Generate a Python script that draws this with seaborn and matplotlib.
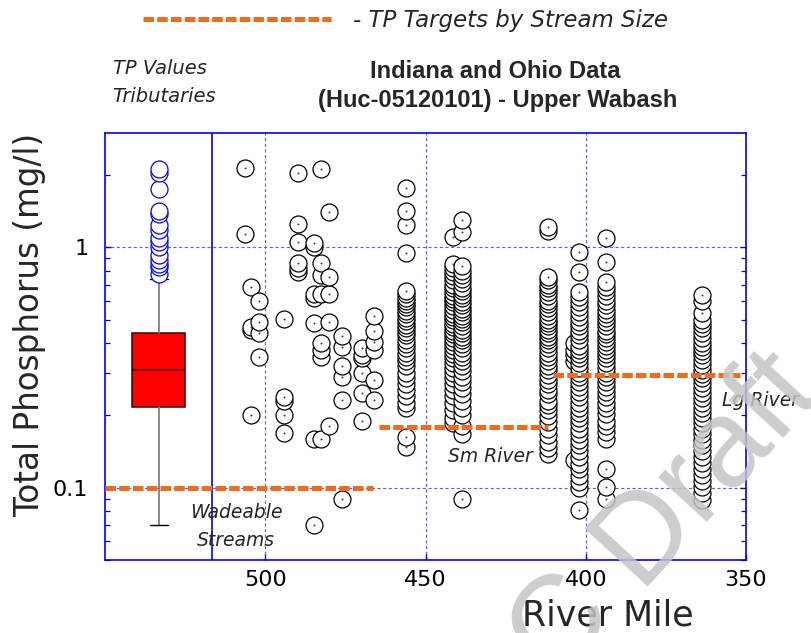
import numpy as np
import pandas as pd
import matplotlib
matplotlib.use("Agg")
import matplotlib.pyplot as plt
from matplotlib.path import Path
from matplotlib.markers import MarkerStyle
from matplotlib.ticker import FixedLocator, FixedFormatter, LogLocator, NullFormatter
import seaborn as sns

# ---------------- data ----------------
# main-stem sampling sites (river mile) and total phosphorus values (mg/l)
tp_506 = [2.13, 1.14]
tp_504 = [0.686, 0.467, 0.453, 0.201]
tp_502 = [0.600, 0.491, 0.442, 0.351]
tp_494 = [0.502, 0.239, 0.230, 0.200, 0.169]
tp_490 = [2.03, 1.25, 1.055, 0.858, 0.818, 0.792]
tp_485 = [1.045, 1.006, 0.639, 0.614, 0.483, 0.160, 0.070]
tp_482 = [2.11, 0.858, 0.767, 0.639, 0.399, 0.374, 0.350, 0.159]
tp_480 = [1.40, 0.755, 0.639, 0.490, 0.181]
tp_476 = [0.428, 0.386, 0.321, 0.290, 0.232, 0.0895]
tp_470 = [0.380, 0.357, 0.346, 0.301, 0.248, 0.190]
tp_466 = [0.519, 0.449, 0.405, 0.374, 0.281, 0.232]
tp_456 = [1.76, 1.42, 1.24, 0.944, 0.66, 0.64, 0.615, 0.60, 0.58, 0.565, 0.545,
          0.53, 0.51, 0.495, 0.475, 0.46, 0.445, 0.43, 0.41, 0.395, 0.38, 0.365,
          0.35, 0.335, 0.32, 0.30, 0.285, 0.27, 0.255, 0.24, 0.225, 0.215,
          0.163, 0.148]
tp_441 = [1.10, 0.85, 0.82, 0.79, 0.76, 0.73, 0.70, 0.675, 0.65, 0.63, 0.61,
          0.59, 0.57, 0.55, 0.53, 0.515, 0.50, 0.48, 0.465, 0.45, 0.435, 0.42,
          0.405, 0.39, 0.375, 0.36, 0.345, 0.33, 0.315, 0.30, 0.285, 0.27,
          0.255, 0.24, 0.225, 0.21, 0.195, 0.185]
tp_439 = [1.30, 1.16, 0.84, 0.80, 0.77, 0.74, 0.71, 0.68, 0.66, 0.635, 0.615,
          0.595, 0.575, 0.555, 0.54, 0.52, 0.505, 0.49, 0.47, 0.455, 0.44,
          0.425, 0.41, 0.395, 0.38, 0.365, 0.35, 0.335, 0.32, 0.305, 0.29,
          0.275, 0.26, 0.245, 0.23, 0.215, 0.20, 0.18, 0.168, 0.0897]
tp_412 = [1.22, 1.17, 0.755, 0.73, 0.70, 0.675, 0.65, 0.625, 0.60, 0.58, 0.56,
          0.54, 0.52, 0.50, 0.485, 0.47, 0.455, 0.44, 0.425, 0.41, 0.395, 0.38,
          0.365, 0.35, 0.335, 0.32, 0.31, 0.295, 0.28, 0.27, 0.255, 0.245, 0.23,
          0.22, 0.21, 0.198, 0.187, 0.176, 0.165, 0.155, 0.146, 0.138]
tp_404 = [0.40, 0.375, 0.355, 0.335, 0.13]
tp_402 = [0.953, 0.792, 0.654, 0.62, 0.59, 0.565, 0.54, 0.515, 0.49, 0.47,
          0.45, 0.43, 0.41, 0.39, 0.375, 0.36, 0.345, 0.33, 0.315, 0.30, 0.29,
          0.275, 0.262, 0.25, 0.238, 0.226, 0.215, 0.205, 0.195, 0.185, 0.176,
          0.167, 0.158, 0.15, 0.142, 0.134, 0.126, 0.119, 0.112, 0.106, 0.100,
          0.081]
tp_394 = [1.09, 0.871, 0.719, 0.686, 0.655, 0.625, 0.60, 0.575, 0.55, 0.53,
          0.51, 0.49, 0.47, 0.45, 0.435, 0.42, 0.405, 0.39, 0.375, 0.36, 0.345,
          0.33, 0.315, 0.30, 0.288, 0.275, 0.262, 0.25, 0.238, 0.226, 0.214,
          0.202, 0.19, 0.18, 0.17, 0.16, 0.120, 0.101, 0.090]
tp_364 = [0.633, 0.60, 0.531, 0.50, 0.48, 0.46, 0.44, 0.42, 0.40, 0.385, 0.37,
          0.355, 0.34, 0.325, 0.31, 0.298, 0.285, 0.272, 0.26, 0.248, 0.237,
          0.226, 0.215, 0.205, 0.195, 0.185, 0.176, 0.167, 0.158, 0.15, 0.142,
          0.134, 0.127, 0.12, 0.113, 0.107, 0.101, 0.095, 0.089]

site_miles = [506.4, 504.4, 502.0, 494.2, 489.8, 484.8, 482.5, 480.1, 476.1,
              469.7, 466.1, 456.0, 441.3, 438.6, 411.7, 403.6, 402.2, 393.7, 363.6]
site_values = [tp_506, tp_504, tp_502, tp_494, tp_490, tp_485, tp_482, tp_480,
               tp_476, tp_470, tp_466, tp_456, tp_441, tp_439, tp_412, tp_404,
               tp_402, tp_394, tp_364]

# tributary box plot summary
trib_mile = 533.2
trib_q1 = 0.217
trib_median = 0.308
trib_q3 = 0.439
trib_whisker_low = 0.0698
trib_whisker_high = 0.74
trib_outliers = [2.11, 2.03, 1.75, 1.42, 1.38, 1.24, 1.18, 1.09, 1.05, 1.00,
                 0.926, 0.883, 0.85, 0.828, 0.777]
trib_panel_edge = 516.7

# TP targets by stream size
target_labels = ["Wadeable\nStreams", "Sm River", "Lg River"]
target_tp = [0.10, 0.178, 0.294]
target_from = [550.0, 464.5, 410.1]
target_to = [466.4, 411.9, 351.9]

x_ticks = [500, 450, 400, 350]
x_tick_labels = ["500", "450", "400", "350"]
y_ticks = [0.1, 1]
y_tick_labels = ["0.1", "1"]

# ---------------- figure ----------------
sns.set_style("white")
plt.rcParams["font.family"] = ["DejaVu Sans"]

W, H = 811, 633
fig = plt.figure(figsize=(W / 100, H / 100), dpi=100)
ax = fig.add_axes([105 / W, 1 - 560 / H, (746 - 105) / W, (560 - 133) / H])

def fx(px):
    return px / W

def fy(py):
    return 1 - py / H

BLUE = "#0000ff"
GRID = "#5a5aff"
ORANGE = "#f26b1d"

# marker: open circle with a tiny centre dot (single path so stacking works)
outer = Path.unit_circle()
inner = Path(Path.unit_circle().vertices * 0.035, Path.unit_circle().codes)
dot_circle = MarkerStyle(Path.make_compound_path(outer, inner))

rows = []
for mile, vals in zip(site_miles, site_values):
    for v in sorted(vals):
        rows.append((mile, v))
df = pd.DataFrame(rows, columns=["mile", "tp"])

ax.set_yscale("log")
ax.set_xlim(550, 350)
ax.set_ylim(0.05, 2.99)

# grid
ax.grid(True, which="major", axis="both", color=GRID, linewidth=0.85,
        linestyle=(0, (2.6, 2.2)), zorder=0.5)
ax.set_axisbelow(True)
ax.axvline(trib_panel_edge, color=BLUE, linewidth=1.2, zorder=1)

# box plot of tributary values
stats = [dict(med=trib_median, q1=trib_q1, q3=trib_q3,
              whislo=trib_whisker_low, whishi=trib_whisker_high, fliers=[])]
ax.bxp(stats, positions=[trib_mile], widths=[16.6], capwidths=[5.5],
       patch_artist=True, showfliers=False, manage_ticks=False,
       boxprops=dict(facecolor="#ff0000", edgecolor="#3a0000", linewidth=1.1),
       medianprops=dict(color="#3a0000", linewidth=1.1),
       whiskerprops=dict(color="#808080", linewidth=1.3),
       capprops=dict(color="black", linewidth=1.0), zorder=2)

# tributary outliers (blue)
df_out = pd.DataFrame({"mile": [trib_mile] * len(trib_outliers),
                       "tp": sorted(trib_outliers)})
sns.scatterplot(data=df_out, x="mile", y="tp", ax=ax, marker="o", s=149,
                color="white", edgecolor=BLUE, linewidth=0.9, legend=False,
                zorder=4)

# main-stem points
sns.scatterplot(data=df, x="mile", y="tp", ax=ax, marker=dot_circle, s=149,
                color="white", edgecolor="black", linewidth=0.9, legend=False,
                zorder=3)

# target lines
target_lines = []
for t0, t1, tp in zip(target_from, target_to, target_tp):
    ln, = ax.plot([t0, t1], [tp, tp], color=ORANGE, linewidth=3.6,
                  linestyle=(0, (2.1, 0.65)), dash_capstyle="butt", zorder=5)
    target_lines.append(ln)

ax.set_xlabel("")
ax.set_ylabel("")

# ticks
ax.xaxis.set_major_locator(FixedLocator(x_ticks))
ax.xaxis.set_major_formatter(FixedFormatter(x_tick_labels))
ax.yaxis.set_major_locator(FixedLocator(y_ticks))
ax.yaxis.set_major_formatter(FixedFormatter(y_tick_labels))
ax.yaxis.set_minor_locator(LogLocator(base=10, subs=np.arange(2, 10), numticks=20))
ax.yaxis.set_minor_formatter(NullFormatter())
ax.tick_params(which="both", direction="in", color=BLUE, labelcolor="black",
               left=True, right=True, top=False, bottom=True)
ax.tick_params(which="major", length=4.5, width=1.0, labelsize=16, pad=7)
ax.tick_params(axis="y", which="major", pad=12)
ax.tick_params(which="minor", length=3.5, width=0.9)
for sp in ax.spines.values():
    sp.set_color(BLUE)
    sp.set_linewidth(1.2)
    sp.set_visible(True)

# axis labels
fig.text(fx(608), fy(615), "River Mile", ha="center", va="center", fontsize=25)
fig.text(fx(30), fy(325), "Total Phosphorus (mg/l)", ha="center", va="center",
         rotation=90, fontsize=23.5)

# title
fig.text(fx(495), fy(72), "Indiana and Ohio Data", ha="center", va="center",
         fontsize=17, fontweight="bold", family="Liberation Sans")
fig.text(fx(498), fy(100), "(Huc-05120101) - Upper Wabash", ha="center",
         va="center", fontsize=17, fontweight="bold", family="Liberation Sans")

# panel annotations
fig.text(fx(160), fy(68), "TP Values", ha="center", va="center", fontsize=14,
         style="italic")
fig.text(fx(164), fy(97), "Tributaries", ha="center", va="center", fontsize=14,
         style="italic")

label_pos = [(236, 512), (490, 457), (760, 400)]
for (px, py), lab in zip(label_pos, target_labels):
    for k, part in enumerate(lab.split("\n")):
        fig.text(fx(px), fy(py + 28 * k), part, ha="center", va="center",
                 fontsize=13.5, style="italic")

# legend
fig.legend(handles=[target_lines[0]], labels=["- TP Targets by Stream Size"],
           loc="center left", bbox_to_anchor=(fx(143), fy(21)), frameon=False,
           handlelength=8.2, handletextpad=0.95, borderpad=0, borderaxespad=0,
           prop=dict(size=16.5, style="italic"))

# watermark
wm = dict(color="#c4c4c4", alpha=0.85, rotation=47.5, rotation_mode="anchor",
          fontsize=90, family="Liberation Sans", zorder=20)
fig.text(fx(638), fy(586), "Draft", ha="left", va="baseline", **wm)
fig.text(fx(615), fy(612), "C", ha="right", va="baseline", **wm)

fig.savefig("out.png", dpi=100)
